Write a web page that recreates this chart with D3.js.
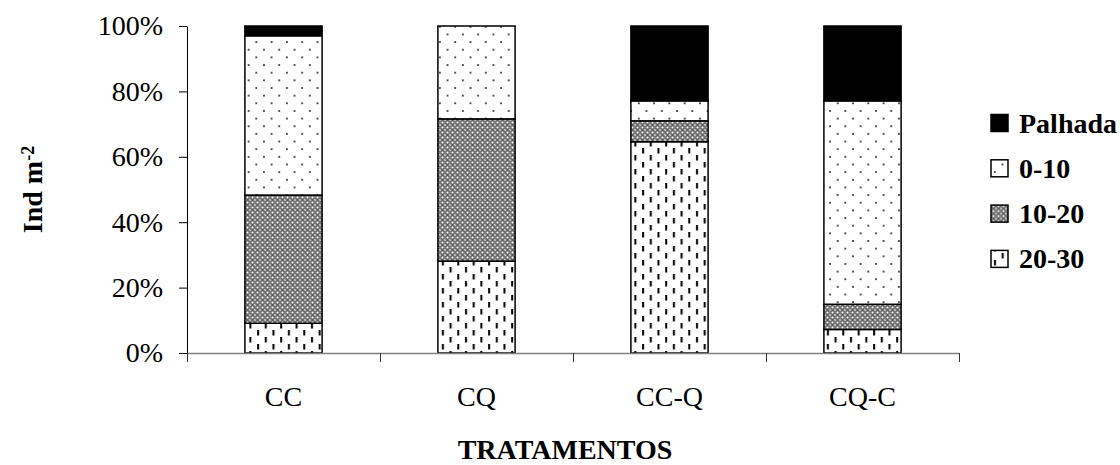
<!DOCTYPE html>
<html>
<head>
<meta charset="utf-8">
<script src="https://cdn.jsdelivr.net/npm/d3@7"></script>
<style>
  body { margin: 0; background: #fff; }
  svg text { font-family: "Liberation Serif", "DejaVu Serif", serif; fill: #000; }
</style>
</head>
<body>
<svg id="chart" width="1120" height="465"></svg>
<script>
// data (percent of Ind m-2 per layer)
const categories = ["CC", "CQ", "CC-Q", "CQ-C"];
const layerKeys = ["20-30", "10-20", "0-10", "Palhada"]; // bottom -> top
const layer2030 = [9.1, 28.1, 64.6, 7.2];
const layer1020 = [39.2, 43.5, 6.4, 7.7];
const layer010 = [48.7, 28.4, 6.1, 62.2];
const palhada = [3.0, 0.0, 22.9, 22.9];
const yTicks = [0, 20, 40, 60, 80, 100];
const legendOrder = ["Palhada", "0-10", "10-20", "20-30"];

const rows = categories.map((c, i) => ({
  cat: c,
  "20-30": layer2030[i],
  "10-20": layer1020[i],
  "0-10": layer010[i],
  "Palhada": palhada[i]
}));

const svg = d3.select("#chart");

// Config
const plot = { left: 187, right: 959, top: 26, bottom: 353 };

// Patterns
const defs = svg.append("defs");

// 0-10 : sparse staggered dots
const pDots = defs.append("pattern")
  .attr("id", "pat010").attr("patternUnits", "userSpaceOnUse")
  .attr("width", 15.3).attr("height", 15.3);
pDots.append("rect").attr("width", 15.3).attr("height", 15.3).attr("fill", "#fff");
pDots.append("rect").attr("x", 3).attr("y", 3).attr("width", 1.7).attr("height", 1.7).attr("fill", "#222");
pDots.append("rect").attr("x", 10.65).attr("y", 10.65).attr("width", 1.7).attr("height", 1.7).attr("fill", "#222");

// 10-20 : dense dotted diamond
const pDiam = defs.append("pattern")
  .attr("id", "pat1020").attr("patternUnits", "userSpaceOnUse")
  .attr("width", 5).attr("height", 5);
pDiam.append("rect").attr("width", 5).attr("height", 5).attr("fill", "#a8a8a8");
pDiam.append("path").attr("d", "M0,2.5 L2.5,0 L5,2.5 L2.5,5 Z")
  .attr("fill", "none").attr("stroke", "#333").attr("stroke-width", 0.9);
pDiam.append("rect").attr("x", 1.9).attr("y", 1.9).attr("width", 1.2).attr("height", 1.2).attr("fill", "#fff");
pDiam.append("rect").attr("x", -0.6).attr("y", -0.6).attr("width", 1.2).attr("height", 1.2).attr("fill", "#eee");
pDiam.append("rect").attr("x", 4.4).attr("y", 4.4).attr("width", 1.2).attr("height", 1.2).attr("fill", "#eee");

// 20-30 : staggered vertical dashes
const pDash = defs.append("pattern")
  .attr("id", "pat2030").attr("patternUnits", "userSpaceOnUse")
  .attr("width", 15.4).attr("height", 14);
pDash.append("rect").attr("width", 15.4).attr("height", 14).attr("fill", "#fff");
pDash.append("rect").attr("x", 3).attr("y", 1).attr("width", 2).attr("height", 5.5).attr("fill", "#000");
pDash.append("rect").attr("x", 10.7).attr("y", 8).attr("width", 2).attr("height", 5.5).attr("fill", "#000");

const fillFor = key => key === "Palhada" ? "#000"
  : key === "0-10" ? "url(#pat010)"
  : key === "10-20" ? "url(#pat1020)" : "url(#pat2030)";

// Scales
const x = d3.scaleBand().domain(categories)
  .range([plot.left, plot.right]).paddingInner(0.6).paddingOuter(0.3);
const y = d3.scaleLinear().domain([0, 100]).range([plot.bottom, plot.top]);
const xTickScale = d3.scaleLinear().domain([0, categories.length]).range([plot.left, plot.right]);

// Bars
const series = d3.stack().keys(layerKeys)(rows);
svg.append("g").selectAll("g")
  .data(series)
  .enter().append("g")
  .attr("fill", d => fillFor(d.key))
  .selectAll("rect")
  .data(d => d.filter(v => v[1] - v[0] > 0))
  .enter().append("rect")
  .attr("x", d => x(d.data.cat))
  .attr("y", d => y(d[1]))
  .attr("width", x.bandwidth())
  .attr("height", d => y(d[0]) - y(d[1]))
  .attr("stroke", "#000")
  .attr("stroke-width", 1.5);

// Y axis
const yAxis = svg.append("g")
  .attr("transform", `translate(${plot.left},0)`)
  .call(d3.axisLeft(y).tickValues(yTicks).tickSize(8).tickSizeOuter(0).tickPadding(16)
    .tickFormat(d => d + "%"));
yAxis.selectAll("text").style("font-size", "28px");
yAxis.selectAll("line, path").attr("stroke", "#000");

// X axis (ticks at band boundaries)
const xAxis = svg.append("g")
  .attr("transform", `translate(0,${plot.bottom})`)
  .call(d3.axisBottom(xTickScale).ticks(categories.length).tickSize(9).tickSizeOuter(0).tickFormat(""));
xAxis.select(".domain").attr("stroke", "#808080").attr("stroke-width", 1.5);
xAxis.selectAll("line").attr("stroke", "#333");

// Category labels
svg.append("g").selectAll("text")
  .data(categories)
  .enter().append("text")
  .attr("x", d => x(d) + x.bandwidth() / 2)
  .attr("y", 406)
  .attr("text-anchor", "middle")
  .style("font-size", "28px")
  .text(d => d);

// Axis titles
svg.append("text")
  .attr("x", (plot.left + plot.right) / 2 - 8)
  .attr("y", 459)
  .attr("text-anchor", "middle")
  .style("font-size", "28px")
  .style("font-weight", "bold")
  .text("TRATAMENTOS");

const yTitle = svg.append("text")
  .attr("transform", `translate(42,${(plot.top + plot.bottom) / 2}) rotate(-90)`)
  .attr("text-anchor", "middle")
  .style("font-size", "28px")
  .style("font-weight", "bold");
yTitle.append("tspan").text("Ind m");
yTitle.append("tspan").attr("dy", "-0.45em").style("font-size", "18px").text("-2");

// Legend
const legend = svg.append("g").selectAll("g")
  .data(legendOrder)
  .enter().append("g")
  .attr("transform", (d, i) => `translate(991,${123 + i * 45.3})`);

legend.append("rect")
  .attr("x", 0).attr("y", -8.5)
  .attr("width", 17).attr("height", 17)
  .attr("fill", d => fillFor(d))
  .attr("stroke", "#000")
  .attr("stroke-width", 1.5);

legend.append("text")
  .attr("x", 28)
  .attr("y", 0)
  .attr("dy", "0.34em")
  .style("font-size", "28px")
  .style("font-weight", "bold")
  .text(d => d);
</script>
</body>
</html>
